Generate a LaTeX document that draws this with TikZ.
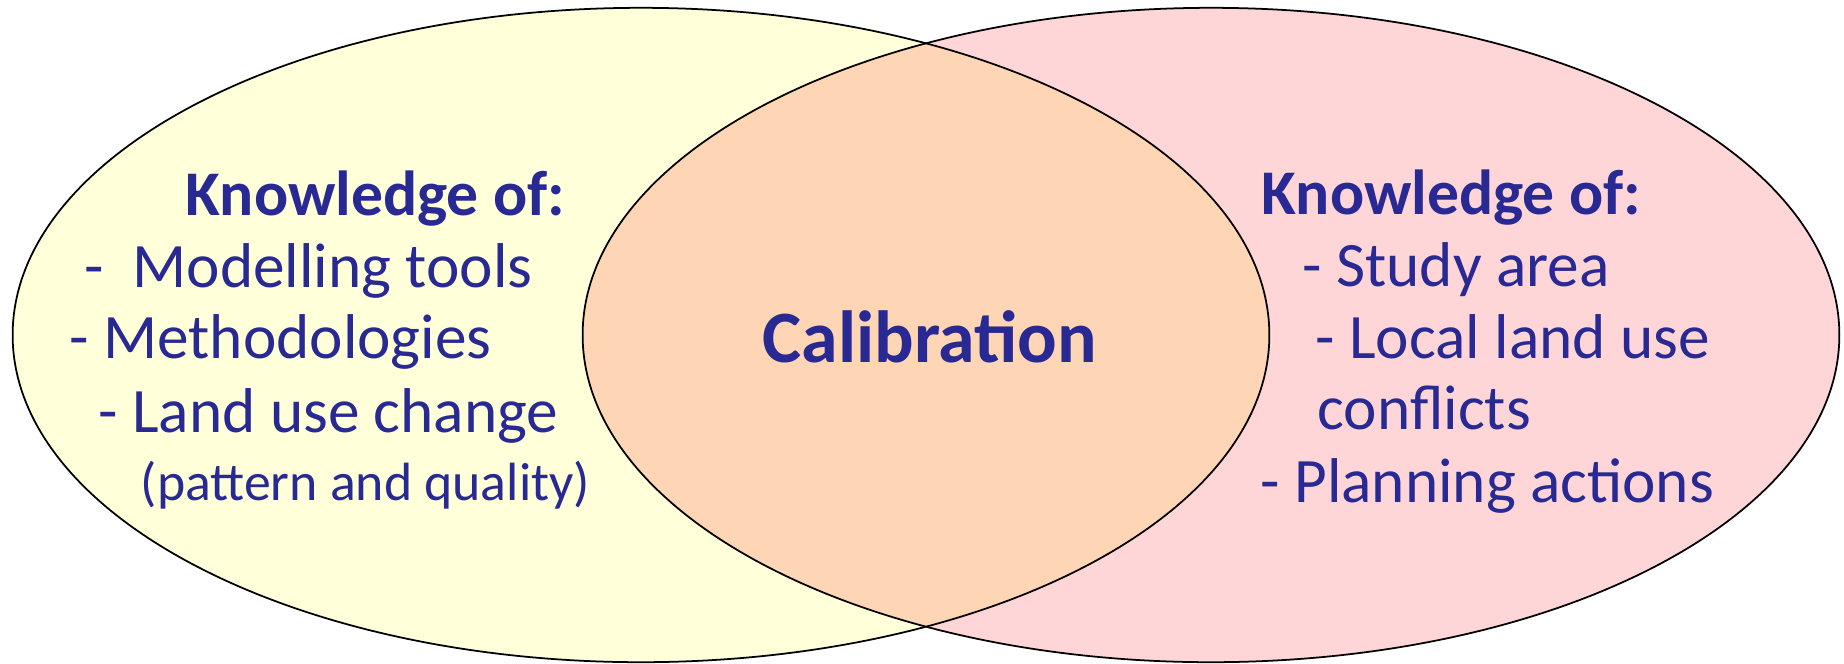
\documentclass[tikz,border=0pt]{standalone}
\usepackage{fontspec}
\setmainfont{Carlito}
\usepackage{xcolor}
\definecolor{setyellow}{RGB}{255,255,217}
\definecolor{setpink}{RGB}{255,214,216}
\definecolor{setpeach}{RGB}{255,214,181}
\definecolor{textblue}{RGB}{41,41,148}
\usetikzlibrary{calc}

\begin{document}
\begin{tikzpicture}[x=0.01cm, y=-0.01cm, every node/.style={anchor=base west, inner sep=0pt, text=textblue, font=\fontsize{18}{22}\selectfont}, outline/.style={line width=0.5pt}]
			\useasboundingbox (0,0) rectangle (1844,663);
			\def\leftset{(641,335) ellipse [x radius=6.28cm, y radius=3.27cm]}
			\def\rightset{(1211,335) ellipse [x radius=6.28cm, y radius=3.27cm]}
			\fill[setyellow] \leftset;
			\fill[setpink] \rightset;
			\begin{scope}
				\clip \leftset;
				\fill[setpeach] \rightset;
			\end{scope}
			\draw[outline] \leftset;
			\draw[outline] \rightset;
			\node[font=\bfseries\fontsize{18.1}{22}\selectfont] (lhead) at (185,215) {Knowledge of:};
			\node (ltools) at (84,287) {-\ \ Modelling tools};
			\node (lmeth) at (69,358) {- Methodologies};
			\node (lland) at (98,432) {- Land use change};
			\node[font=\fontsize{15.3}{18}\selectfont] (lpatt) at (140,500) {(pattern and quality)};
			\node[anchor=base, font=\bfseries\fontsize{21}{26}\selectfont] (calib) at (930,362) {Calibration};
			\node[font=\bfseries\fontsize{18.1}{22}\selectfont] (rhead) at (1261,214) {Knowledge of:};
			\node (rstudy) at (1302,286) {- Study area};
			\node (rlocal) at (1315,358) {- Local land use};
			\node (rconf) at (1317,429) {conflicts};
			\node (rplan) at (1260,502) {- Planning actions};
		\end{tikzpicture}
\end{document}
